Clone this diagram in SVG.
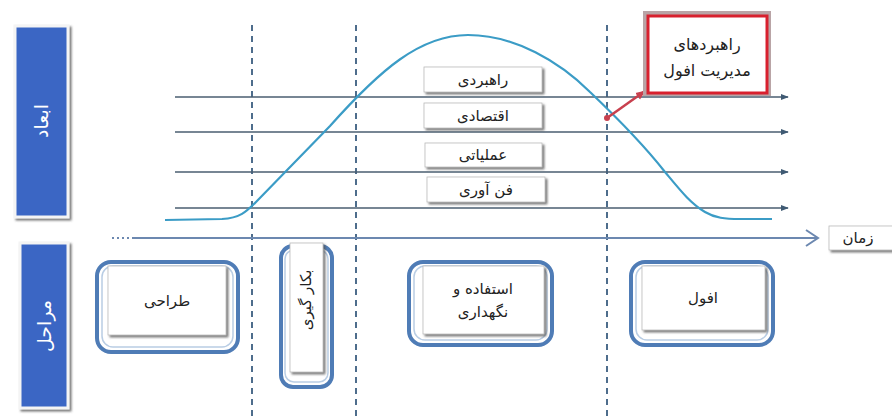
<svg xmlns="http://www.w3.org/2000/svg" width="892" height="416" viewBox="0 0 892 416">
  <defs>
    <filter id="sh" x="-20%" y="-20%" width="140%" height="140%">
      <feDropShadow dx="2" dy="2" stdDeviation="1.2" flood-color="#555" flood-opacity="0.8"/>
    </filter>
    <marker id="ah" viewBox="0 0 10 10" refX="9" refY="5" markerWidth="8" markerHeight="8" markerUnits="userSpaceOnUse" orient="auto">
      <path d="M0,1 L10,5 L0,9 Z" fill="#3f5a73"/>
    </marker>
    <marker id="rah" viewBox="0 0 10 10" refX="9" refY="5" markerWidth="10" markerHeight="10" markerUnits="userSpaceOnUse" orient="auto">
      <path d="M0,1 L10,5 L0,9 Z" fill="#c8404e"/>
    </marker>
  </defs>
  <style>
    text { font-family: "DejaVu Sans", "Noto Sans", sans-serif; }
    .lbl { font-size: 15px; fill: #222; text-anchor: middle; dominant-baseline: central; }
    .side { fill: #3b66c4; stroke: #f4f4f4; stroke-width: 3; filter: url(#sh); }
    .sidet { font-size: 19px; fill: #fff; text-anchor: middle; dominant-baseline: central; }
    .dim { stroke: #4a5e70; stroke-width: 1.4; fill: none; }
    .vdash { stroke: #4e6d8c; stroke-width: 2; stroke-dasharray: 6 5; fill: none; }
    .box { fill: #fff; stroke: #bbb; stroke-width: 0.8; filter: url(#sh); }
    .frame { fill: none; stroke: #4f7cb6; stroke-width: 4; }
    .frame2 { fill: none; stroke: #b9cde4; stroke-width: 1.5; }
  </style>

  <!-- side panels -->
  <g id="panel-dims">
    <rect class="side" x="15" y="26" width="53" height="191"/>
    <text class="sidet" transform="translate(41,121) rotate(-90)">ابعاد</text>
  </g>
  <g id="panel-stages">
    <rect class="side" x="20" y="243" width="48" height="165"/>
    <text class="sidet" transform="translate(44,326) rotate(-90)">مراحل</text>
  </g>

  <!-- connectors -->
  <g id="connectors">
    <line class="vdash" x1="252" y1="25" x2="252" y2="416"/>
    <line class="vdash" x1="356" y1="25" x2="356" y2="416"/>
    <line class="vdash" x1="607" y1="25" x2="607" y2="416"/>
    <line class="dim" x1="175" y1="97" x2="788" y2="97" marker-end="url(#ah)"/>
    <line class="dim" x1="175" y1="132" x2="788" y2="132" marker-end="url(#ah)"/>
    <line class="dim" x1="175" y1="172" x2="788" y2="172" marker-end="url(#ah)"/>
    <line class="dim" x1="175" y1="208" x2="788" y2="208" marker-end="url(#ah)"/>
    <path d="M165,220 L222,219 C240,218 246,212 256,202 L330,126 C380,70 420,35 468,35 C515,35 560,62 590,92 C612,113 640,140 665,172 C680,190 690,203 705,212 C715,218 725,219 740,219 L772,219" fill="none" stroke="#3b9cc6" stroke-width="2.2"/>
    <line x1="112" y1="238" x2="130" y2="238" stroke="#6c88b0" stroke-width="2" stroke-dasharray="2 3"/>
    <line x1="132" y1="238" x2="817" y2="238" stroke="#6c88b0" stroke-width="2"/>
    <polyline points="806,230 818,238 806,246" fill="none" stroke="#6c88b0" stroke-width="2"/>
    <line x1="607" y1="118" x2="645" y2="91" stroke="#c8404e" stroke-width="2.5" marker-end="url(#rah)"/>
    <circle cx="607" cy="118" r="3" fill="#c8404e"/>
  </g>

  <!-- dimension labels -->
  <g id="dim-strategic">
    <rect class="box" x="424" y="67" width="118" height="25"/>
    <text class="lbl" x="483" y="80">راهبردی</text>
  </g>
  <g id="dim-economic">
    <rect class="box" x="424" y="103" width="118" height="25"/>
    <text class="lbl" x="483" y="116">اقتصادی</text>
  </g>
  <g id="dim-operational">
    <rect class="box" x="425" y="143" width="117" height="24"/>
    <text class="lbl" x="483" y="155">عملیاتی</text>
  </g>
  <g id="dim-tech">
    <rect class="box" x="427" y="177" width="118" height="25"/>
    <text class="lbl" x="486" y="190">فن آوری</text>
  </g>

  <!-- decline strategies -->
  <g id="decline-strategies">
    <rect x="643" y="11" width="128" height="85" fill="#b9a4a6"/>
    <rect x="648" y="16" width="119" height="77" fill="#fff" stroke="#d8202e" stroke-width="3"/>
    <text class="lbl" x="707" y="44" style="font-size:16px">راهبردهای</text>
    <text class="lbl" x="707" y="70" style="font-size:16px">مدیریت افول</text>
  </g>

  <!-- time label -->
  <g id="time">
    <rect class="box" x="829" y="226" width="66" height="24"/>
    <text class="lbl" x="858" y="238">زمان</text>
  </g>

  <!-- stages -->
  <g id="stage-design">
    <rect class="frame" x="97" y="262" width="141" height="90" rx="14"/>
    <rect class="frame2" x="102" y="266" width="131" height="81" rx="11"/>
    <rect class="box" x="108" y="266" width="118" height="69"/>
    <text class="lbl" x="167" y="301">طراحی</text>
  </g>
  <g id="stage-deploy">
    <rect class="frame" x="281" y="246" width="51" height="141" rx="12"/>
    <rect class="frame2" x="285" y="250" width="43" height="132" rx="9"/>
    <rect class="box" x="290" y="243" width="33" height="129"/>
    <text class="lbl" transform="translate(306,300) rotate(-90)">بکار گیری</text>
  </g>
  <g id="stage-use">
    <rect class="frame" x="409" y="262" width="143" height="83" rx="14"/>
    <rect class="frame2" x="414" y="266" width="133" height="74" rx="11"/>
    <rect class="box" x="423" y="266" width="121" height="68"/>
    <text class="lbl" x="483" y="289">استفاده و</text>
    <text class="lbl" x="483" y="312">نگهداری</text>
  </g>
  <g id="stage-decline">
    <rect class="frame" x="631" y="262" width="142" height="83" rx="14"/>
    <rect class="frame2" x="636" y="266" width="132" height="74" rx="11"/>
    <rect class="box" x="642" y="266" width="123" height="64"/>
    <text class="lbl" x="703" y="298">افول</text>
  </g>
</svg>
